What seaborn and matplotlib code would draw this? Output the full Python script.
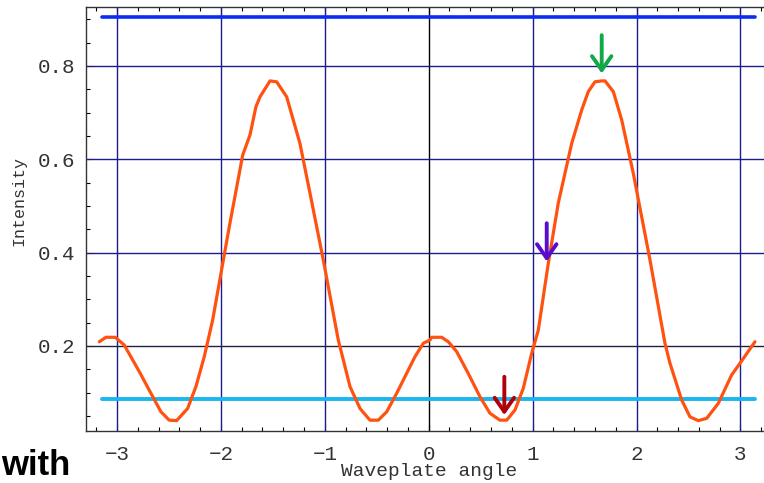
import numpy as np
import pandas as pd
import matplotlib
matplotlib.use("Agg")
import matplotlib.pyplot as plt
from matplotlib.ticker import MultipleLocator, FixedLocator
import seaborn as sns

# Measured intensity versus waveplate angle
angle = [-3.17, -3.106, -3.016, -2.93, -2.785, -2.673, -2.577, -2.497, -2.426,
         -2.32, -2.24, -2.16, -2.079, -1.999, -1.919, -1.79, -1.72, -1.662,
         -1.623, -1.527, -1.463, -1.367, -1.239, -1.142, -1.014, -0.870,
         -0.757, -0.661, -0.565, -0.485, -0.404, -0.308, -0.132, -0.052,
         0.0125, 0.029, 0.125, 0.189, 0.269, 0.381, 0.494, 0.590, 0.686,
         0.751, 0.831, 0.910, 0.991, 1.055, 1.151, 1.247, 1.376, 1.473,
         1.536, 1.600, 1.665, 1.697, 1.777, 1.858, 1.969, 2.130, 2.274,
         2.322, 2.435, 2.515, 2.595, 2.676, 2.787, 2.916, 2.996, 3.14]
intensity = [0.209, 0.2186, 0.2186, 0.202, 0.145, 0.0986, 0.059, 0.041, 0.040,
             0.066, 0.113, 0.177, 0.2556, 0.3557, 0.4556, 0.609, 0.652, 0.713,
             0.734, 0.768, 0.766, 0.734, 0.634, 0.527, 0.384, 0.2128,
             0.1128, 0.066, 0.041, 0.041, 0.059, 0.0986, 0.177, 0.2057,
             0.2128, 0.2186, 0.2186, 0.209, 0.188, 0.141, 0.091, 0.0557, 0.041,
             0.041, 0.063, 0.109, 0.184, 0.234, 0.377, 0.506, 0.634, 0.706,
             0.745, 0.766, 0.768, 0.768, 0.745, 0.684, 0.570, 0.384, 0.2057,
             0.163, 0.084, 0.048, 0.040, 0.045, 0.077, 0.138, 0.163, 0.209]

# Reference levels (upper and lower bounds)
level_span = [-3.1416, 3.1416]
upper_level = 0.9055
lower_level = 0.0864

# Marked points: angle, arrow tail, arrow tip, colour
mark_angle = [1.665, 1.136, 0.728]
mark_tail = [0.866, 0.463, 0.134]
mark_tip = [0.784, 0.381, 0.052]
mark_color = ["#12a84a", "#5a0ccc", "#b0000a"]

x_ticks = [-3, -2, -1, 0, 1, 2, 3]
y_ticks = [0.2, 0.4, 0.6, 0.8]

sns.set_style("white")
plt.rcParams["font.family"] = ["Liberation Mono", "DejaVu Sans Mono"]

fig = plt.figure(figsize=(7.64, 4.83), dpi=100)
ax = fig.add_axes([86 / 764, 52 / 483, 1 - 86 / 764, (431 - 6.7) / 483])

navy = "#1c1c8c"
for xv in x_ticks:
    ax.axvline(xv, color="black" if xv == 0 else navy, lw=1.0, zorder=1)
for yv in y_ticks:
    ax.axhline(yv, color="#202040" if yv == 0.2 else navy, lw=1.0, zorder=1)

levels = pd.DataFrame({"x": level_span * 2,
                       "y": [upper_level] * 2 + [lower_level] * 2,
                       "kind": ["upper"] * 2 + ["lower"] * 2})
sns.lineplot(data=levels[levels.kind == "upper"], x="x", y="y", ax=ax,
             color="#0a2cf5", lw=2.6, zorder=3)
sns.lineplot(data=levels[levels.kind == "lower"], x="x", y="y", ax=ax,
             color="#19b6f0", lw=2.8, zorder=3)

curve = pd.DataFrame({"angle": angle, "intensity": intensity})
sns.lineplot(data=curve, x="angle", y="intensity", sort=False, ax=ax,
             color="#ff5210", lw=2.3, zorder=4)

for xa, yt, yh, c in zip(mark_angle, mark_tail, mark_tip, mark_color):
    ax.annotate("", xy=(xa, yh), xytext=(xa, yt),
                arrowprops=dict(arrowstyle="->,head_length=1.0,head_width=0.7",
                                color=c, lw=2.8, shrinkA=0, shrinkB=0),
                zorder=5)

ax.set_xlim(-3.298, 3.227)
ax.set_ylim(0.0178, 0.927)
ax.xaxis.set_major_locator(FixedLocator(x_ticks))
ax.xaxis.set_minor_locator(MultipleLocator(0.2))
ax.yaxis.set_major_locator(FixedLocator(y_ticks))
ax.yaxis.set_minor_locator(MultipleLocator(0.05))
ax.set_xticklabels(["\u22123", "\u22122", "\u22121", "0", "1", "2", "3"])
ax.set_yticklabels(["0.2", "0.4", "0.6", "0.8"])
ax.tick_params(which="both", direction="in", top=True, bottom=True,
               left=True, right=False, colors="black", labelcolor="#333333")
ax.tick_params(which="major", length=5, width=0.8, labelsize=15)
ax.tick_params(which="minor", length=3, width=0.8)
ax.tick_params(axis="x", which="major", pad=10)
ax.tick_params(axis="y", which="major", pad=8)

for side in ["left", "bottom", "top"]:
    ax.spines[side].set_color("#333333")
    ax.spines[side].set_linewidth(1.0)
ax.spines["right"].set_visible(False)

ax.set_xlabel("")
ax.set_ylabel("")
fig.text(429 / 764, 1 - 472 / 483, "Waveplate angle", ha="center", va="center",
         fontsize=14, color="#333333")
fig.text(19 / 764, 1 - 201 / 483, "Intensity", ha="center", va="center",
         rotation=90, fontsize=12, color="#333333")

fig.text(1 / 764, 1 / 483, "with", ha="left", va="bottom",
         fontsize=25, fontweight="bold", family=["Liberation Sans", "DejaVu Sans"],
         color="black")

fig.savefig("out.png", dpi=100)
